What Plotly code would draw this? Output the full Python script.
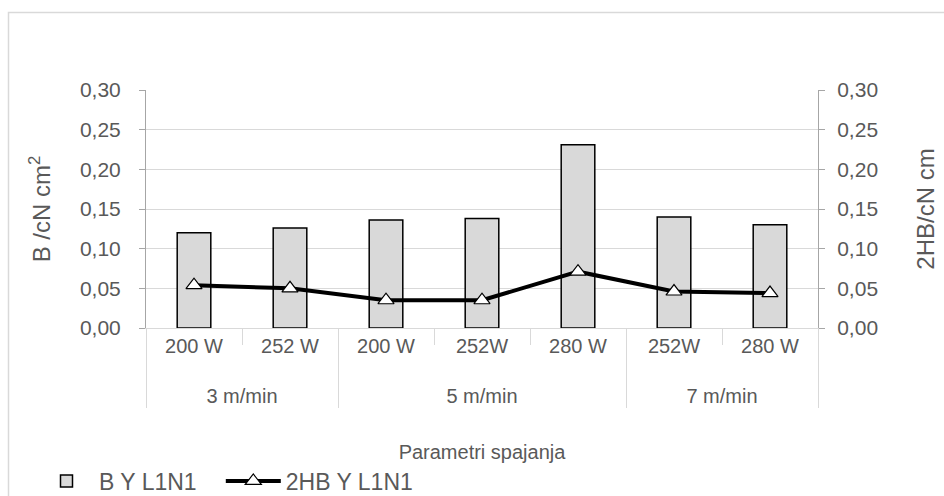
import plotly.graph_objects as go

# parametri spajanja
speed = ["3 m/min", "3 m/min", "5 m/min", "5 m/min", "5 m/min", "7 m/min", "7 m/min"]
power = ["200 W", "252 W", "200 W", "252W", "280 W", "252W", "280 W"]
b_y = [0.120, 0.126, 0.136, 0.138, 0.231, 0.140, 0.130]
hb_y = [0.054, 0.050, 0.035, 0.035, 0.071, 0.046, 0.044]
yticks = [0, 0.05, 0.10, 0.15, 0.20, 0.25, 0.30]

W, H = 944, 496
ml, mr, mt, mb = 146, 126, 90, 168
pw, ph = W - ml - mr, H - mt - mb

# vanjska razina malo nize (prazan red iznad)
speed_lbl = ["<br>" + s for s in speed]

fig = go.Figure()
fig.add_trace(go.Bar(x=[speed_lbl, power], y=b_y, name="B Y L1N1\u00a0\u00a0\u00a0",
                     marker=dict(color="#d9d9d9", line=dict(color="black", width=1.5)),
                     width=0.35))
fig.add_trace(go.Scatter(x=[speed_lbl, power], y=hb_y, name="2HB Y L1N1", yaxis="y2",
                         mode="lines+markers",
                         line=dict(color="black", width=4),
                         marker=dict(symbol="triangle-up", size=14, color="white",
                                     line=dict(color="black", width=1.2))))

grey = "#595959"
fnt = "Liberation Sans, Arial"
fig.update_layout(
    width=W, height=H,
    margin=dict(l=ml, r=mr, t=mt, b=mb, autoexpand=False),
    paper_bgcolor="white", plot_bgcolor="white",
    separators=", ",
    font=dict(family=fnt, color=grey),
    showlegend=True,
    legend=dict(orientation="h", xref="container", yref="container",
                x=34 / W, xanchor="left", y=(H - 481) / H, yanchor="middle",
                font=dict(size=23, color=grey), itemwidth=55, traceorder="normal"),
    bargap=0.65,
    xaxis=dict(type="multicategory", showgrid=False, linecolor="#d9d9d9", automargin=False,
               ticks="outside", tickcolor="#d9d9d9", ticklen=16,
               dividercolor="#d9d9d9", dividerwidth=1,
               tickfont=dict(size=20, color=grey),
               title=dict(text="Parametri spajanja", font=dict(size=20, color=grey), standoff=38)),
    yaxis=dict(range=[0, 0.30], tickvals=yticks, tickformat=".2f", automargin=False,
               showgrid=True, gridcolor="#d9d9d9", gridwidth=1,
               showline=True, linecolor="#a6a6a6", ticks="outside", tickcolor="#a6a6a6", ticklen=6,
               ticklabelstandoff=14,
               tickfont=dict(size=21, color=grey), zeroline=False,
               title=dict(text="B /cN cm<sup>2</sup>", font=dict(size=24, color=grey), standoff=22)),
    yaxis2=dict(range=[0, 0.30], tickvals=yticks, tickformat=".2f", overlaying="y", side="right",
                automargin=False,
                showgrid=False, showline=True, linecolor="#a6a6a6", ticks="outside",
                tickcolor="#a6a6a6", ticklen=6, ticklabelstandoff=8,
                tickfont=dict(size=21, color=grey), zeroline=False,
                title=dict(text="2HB/cN cm", font=dict(size=24, color=grey), standoff=40)),
)

# okvir grafikona
fig.add_shape(type="rect", xref="paper", yref="paper",
              x0=(8.5 - ml) / pw, x1=(W + 5 - ml) / pw,
              y0=(mb - H - 5) / ph, y1=(H - 12.5 - mb) / ph,
              line=dict(color="#d9d9d9", width=1.5), layer="below")

fig.write_html("out.html", config={"displayModeBar": False},
               post_script="document.body.style.margin='0';")
